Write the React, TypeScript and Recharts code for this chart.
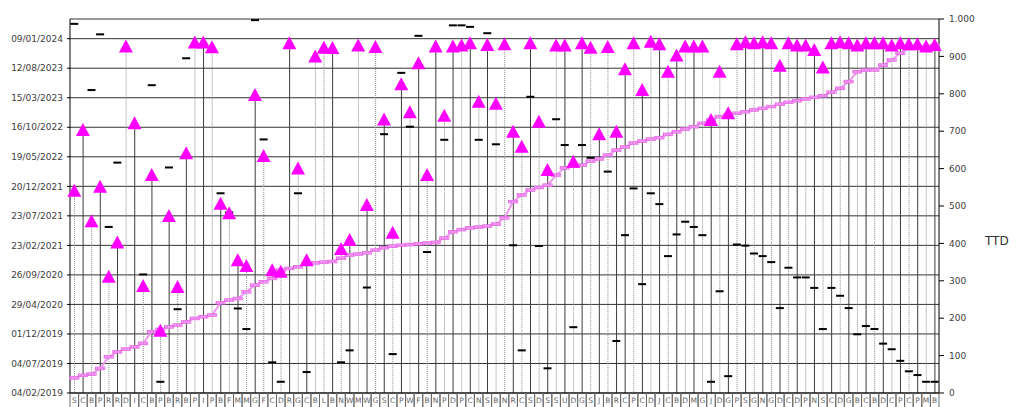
import React from "react";
import {
  ComposedChart,
  Bar,
  Line,
  XAxis,
  YAxis,
  CartesianGrid,
} from "recharts";

// category codes, one letter each
const catLabels = (
  "SCBPRRDICBPBRBPIPBFMMGFCDRGCBLBNW" +
  "MWGSCPWFBNPDPCNSBNRCSDSSUDGSJBRCPC" +
  "DJCBDMGJDGPSGNGDCDPNSCDGBCBDCPCPMB"
).split("");

// triangle marker, days after 04/02/2019
const triangleDays = [
  1027, 1336, 873, 1048, 590, 765, 1760, 1370, 543, 1107,
  316, 899, 539, 1218, 1780, 1780, 1756, 962, 913, 675,
  645, 1514, 1204, 624, 616, 1777, 1141, 675, 1709, 1754,
  1753, 731, 777, 1765, 955, 1758, 1390, 814, 1568, 1426,
  1675, 1107, 1760, 1409, 1760, 1765, 1777, 1480, 1768, 1470,
  1772, 1327, 1251, 1777, 1378, 1133, 1765, 1765, 1175, 1777,
  1754, 1314, 1758, 1327, 1645, 1777, 1539, 1785, 1772, 1632,
  1714, 1760, 1760, 1760, 1387, 1632, 1421, 1772, 1782, 1777,
  1782, 1777, 1663, 1777, 1765, 1765, 1743, 1653, 1777, 1782,
  1777, 1765, 1777, 1777, 1777, 1765, 1777, 1772, 1772, 1760,
  1768,
];

// rising magenta step series, days after 04/02/2019
const stepDays = [
  77, 90, 96, 125, 184, 209, 223, 234, 252, 311,
  323, 336, 345, 361, 379, 387, 396, 458, 472, 480,
  514, 548, 565, 582, 624, 633, 641, 658, 661, 665,
  668, 685, 701, 706, 712, 726, 738, 746, 751, 754,
  758, 762, 765, 787, 819, 830, 839, 843, 848, 858,
  890, 972, 1006, 1031, 1044, 1056, 1107, 1144, 1153, 1158,
  1178, 1189, 1209, 1234, 1250, 1270, 1280, 1290, 1297, 1314,
  1327, 1341, 1353, 1370, 1387, 1404, 1412, 1421, 1429, 1438,
  1446, 1455, 1467, 1477, 1485, 1494, 1502, 1510, 1528, 1548,
  1582, 1632, 1641, 1641, 1666, 1692, 1726, 1751, 1754, 1760,
  1765,
];

// black dash, TTD (right axis)
const ttdDash = [
  987, null, 810, 959, 444, 616, null, null, 317, 823,
  30, 603, 224, 895, null, null, null, 534, 483, 226,
  171, 997, 678, 82, 30, null, 534, 56, null, null,
  null, 82, 114, null, 282, null, 692, 104, 856, 712,
  955, 377, null, 677, 983, 983, 979, 677, 962, 665,
  923, 395, 114, 792, 393, 66, 732, 663, 176, 663,
  629, null, 592, 139, 422, 547, 291, 534, 505, 366,
  424, 458, 444, 422, 30, 272, 45, 397, 394, 373,
  366, 350, 227, 335, 309, 309, 281, 171, 281, 260,
  227, 157, 179, 171, 132, 117, 86, 58, 48, 30,
  30,
];

// drop line group: S = solid, D = dotted
const dropGroup = (
  "DSDSDSDSDSDSDSDSDSDSDSDSDSDSD" +
  "D" +
  "SDSDSDSDSDSDSDSDSDSD" +
  "D" +
  "SDSDSDSDSDSDS" +
  "SD" +
  "SDSDSDSDSDSDSDSDSDSDSDSDSDSDSDSDSDS"
).split("");

const dateTicks = [0, 150, 300, 450, 600, 750, 900, 1050, 1200, 1350, 1500, 1650, 1800];
const ttdTicks = [0, 100, 200, 300, 400, 500, 600, 700, 800, 900, 1000];

const START = Date.UTC(2019, 1, 4);
const pad = (n: number) => (n < 10 ? "0" + n : String(n));
const fmtDate = (d: number) => {
  const dt = new Date(START + d * 86400000);
  return `${pad(dt.getUTCDate())}/${pad(dt.getUTCMonth() + 1)}/${dt.getUTCFullYear()}`;
};
const fmtNum = (v: number) => String(v).replace(/\B(?=(\d{3})+(?!\d))/g, ".");

const data = catLabels.map((c, i) => ({
  id: i,
  cat: c,
  tri: triangleDays[i],
  step: stepDays[i],
  ttd: ttdDash[i],
  group: dropGroup[i],
}));

const FONT = "DejaVu Sans, Verdana, sans-serif";
const HALF_BAND = 869 / catLabels.length / 2;

const DropLine = (p: any) => {
  const { x, y, width, height, payload } = p;
  if (y == null || isNaN(y)) return <g />;
  const cx = x + width / 2;
  const solid = payload.group === "S";
  return (
    <line
      x1={cx}
      x2={cx}
      y1={y}
      y2={y + height}
      stroke={solid ? "#3c3c3c" : "#8a8a8a"}
      strokeWidth={1}
      strokeDasharray={solid ? undefined : "1 1"}
    />
  );
};

const renderTriangle = (p: any) => {
  const { cx, cy, index } = p;
  if (cy == null || isNaN(cy)) return <g key={`t${index}`} />;
  return (
    <path
      key={`t${index}`}
      d={`M${cx},${cy - 7} L${cx + 7},${cy + 6} L${cx - 7},${cy + 6} Z`}
      fill="#FF00FF"
    />
  );
};

const renderDash = (p: any) => {
  const { cx, cy, index } = p;
  if (cy == null || isNaN(cy)) return <g key={`d${index}`} />;
  return <rect key={`d${index}`} x={cx - 4} y={cy - 1} width={8} height={2} fill="#000" />;
};

const renderStep = (p: any) => {
  const { cx, cy, index } = p;
  if (cy == null || isNaN(cy)) return <g key={`s${index}`} />;
  return (
    <g key={`s${index}`}>
      <rect x={cx - 5} y={cy - 1.75} width={10} height={3.5} fill="#e660e6" />
      {[-3.5, -2, -0.5, 1, 2.5, 4].map((o) => (
        <line key={o} x1={cx + o} x2={cx + o} y1={cy - 1.2} y2={cy + 1.2} stroke="#f7c6f7" strokeWidth={0.7} />
      ))}
    </g>
  );
};

const CatTick = (p: any) => {
  const { x, y, payload } = p;
  return (
    <g>
      <line x1={x - HALF_BAND} x2={x - HALF_BAND} y1={y} y2={y + 14} stroke="#6a6a6a" />
      <line x1={x + HALF_BAND} x2={x + HALF_BAND} y1={y} y2={y + 14} stroke="#6a6a6a" />
      <text x={x} y={y + 10} textAnchor="middle" fontSize={7.5} fill="#666" fontFamily={FONT}>
        {catLabels[payload.value]}
      </text>
    </g>
  );
};

export default function App() {
  return (
    <div style={{ position: "absolute", left: 0, top: 0, width: 1024, height: 407, background: "#fff" }}>
      <ComposedChart
        width={1024}
        height={407}
        data={data}
        margin={{ top: 19, right: 0, bottom: 0, left: 0 }}
      >
        <CartesianGrid yAxisId="left" vertical={false} stroke="#333" />
        <XAxis
          dataKey="id"
          type="category"
          interval={0}
          height={14}
          tickSize={0}
          tickMargin={0}
          tickLine={false}
          axisLine={{ stroke: "#000" }}
          tick={<CatTick />}
        />
        <YAxis
          yAxisId="left"
          domain={[0, 1900]}
          ticks={dateTicks}
          tickFormatter={fmtDate}
          width={70}
          tickSize={3}
          tickMargin={4}
          axisLine={{ stroke: "#000" }}
          tickLine={{ stroke: "#000" }}
          tick={{ fontSize: 9, fill: "#404040", fontFamily: FONT }}
        />
        <YAxis
          yAxisId="right"
          orientation="right"
          domain={[0, 1000]}
          ticks={ttdTicks}
          tickFormatter={fmtNum}
          width={85}
          tickSize={5}
          tickMargin={5}
          axisLine={{ stroke: "#000" }}
          tickLine={{ stroke: "#000" }}
          tick={{ fontSize: 9, fill: "#404040", fontFamily: FONT }}
        />
        <Bar
          yAxisId="left"
          dataKey="tri"
          barSize={1}
          shape={<DropLine />}
          isAnimationActive={false}
        />
        <Line
          yAxisId="left"
          dataKey="step"
          type="linear"
          stroke="#ec9aec"
          strokeWidth={2}
          dot={renderStep}
          activeDot={false}
          isAnimationActive={false}
        />
        <Line
          yAxisId="right"
          dataKey="ttd"
          stroke="none"
          dot={renderDash}
          activeDot={false}
          isAnimationActive={false}
        />
        <Line
          yAxisId="left"
          dataKey="tri"
          stroke="none"
          dot={renderTriangle}
          activeDot={false}
          isAnimationActive={false}
        />
      </ComposedChart>
      <div
        style={{
          position: "absolute",
          left: 985,
          top: 234,
          fontSize: 12,
          fontFamily: FONT,
          color: "#333",
        }}
      >
        TTD
      </div>
    </div>
  );
}
